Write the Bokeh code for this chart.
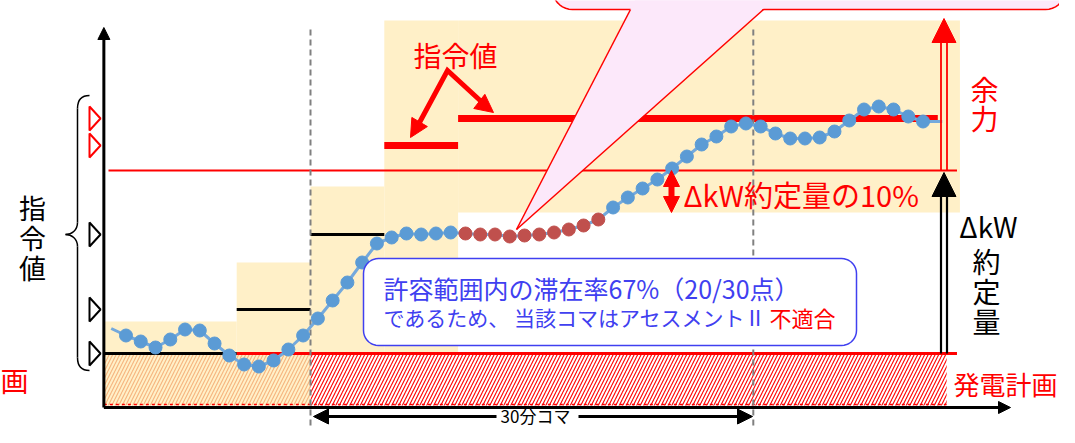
import numpy as np
from bokeh.plotting import figure
from bokeh.models import Range1d, Arrow, NormalHead
from bokeh.core.properties import value
from bokeh.embed import file_html
from bokeh.resources import INLINE

# ---------------- data (x: minutes, y: output in chart units) ----------------
minutes = list(range(55))
output = [72, 66, 60, 68, 78, 77, 64, 52, 43, 41, 47, 58, 72, 89, 107, 125, 145, 164,
          170, 174, 173, 174, 175, 174, 173, 173, 171, 172, 173, 175, 178, 182, 188,
          200, 210, 219, 228, 239, 251, 263, 271, 281, 284, 281, 274, 269, 269, 270,
          276, 287, 298, 301, 298, 291, 286]
line_lead = (-1.0, 79)
line_tail = (55.3, 286)
block_start = [-1.5, 7.5, 12.5, 17.5, 22.5]
block_end = [7.5, 12.5, 17.5, 22.5, 56.5]
dispatch = [54, 98, 173, 262, 289]
band_low = [54, 54, 54, 54, 195]
band_high = [86, 145, 221, 387, 387]
plan = 54
contract_top = 237
slot = [12.5, 42.5]
dispatch_line_end = 55.0
plan_line_end = 56.3
hatch_end = 55.6

# ---------------- styles ----------------
YEL = "#FFF0C8"
BLUE = "#5B9BD5"
LINE_BLUE = "#74A9DC"
RED_DOT = "#C0504D"
RED = "#FF0000"
PINK = "#FCE8FA"
CALL_BLUE = "#4040F0"
FONT = value("Noto Sans CJK JP")
dispatch_colors = ["black", "black", "black", RED, RED]
dispatch_widths = [3, 3, 3, 7, 7]

W, H = 1059, 427
# pixel helpers for the layout of annotations
X0, XS, BASE = 125.5, 14.76, 407.0
def X(px):
    return (px - X0) / XS
def Y(py):
    return BASE - py

p = figure(width=W, height=H, x_range=Range1d(X(0), X(W)),
           y_range=Range1d(Y(H), Y(0)), x_axis_location=None, y_axis_location=None,
           output_backend="svg", toolbar_location=None, min_border=0,
           background_fill_color="white", border_fill_color="white",
           outline_line_color=None)
p.grid.visible = False

# tolerance bands
p.quad(left=block_start, right=block_end, bottom=band_low, top=band_high,
       fill_color=YEL, line_color=None)
# generation plan hatch
p.quad(left=[block_start[0]], right=[slot[0]], bottom=[Y(405)], top=[plan],
       fill_color=YEL, line_color=None, hatch_pattern="/", hatch_color="#F6B47E",
       hatch_scale=7, hatch_weight=1.1)
p.quad(left=[slot[0]], right=[hatch_end], bottom=[Y(405)], top=[plan],
       fill_color="white", line_color=None, hatch_pattern="/", hatch_color=RED,
       hatch_scale=7, hatch_weight=1.1)
p.line([block_start[0], hatch_end], [Y(404), Y(404)], line_color=RED,
       line_width=1.5, line_dash="3 3")

# contract line and plan line
p.segment(x0=[X(108), block_end[0]], y0=[contract_top, plan],
          x1=[plan_line_end, plan_line_end], y1=[contract_top, plan],
          line_color=RED, line_width=[2, 3])

# dispatch values
ends = [min(e, dispatch_line_end) for e in block_end]
p.segment(x0=block_start, y0=dispatch, x1=ends, y1=dispatch,
          line_color=dispatch_colors, line_width=dispatch_widths)

# slot boundaries
p.segment(x0=slot, y0=[Y(445)] * 2, x1=slot, y1=[Y(27)] * 2,
          line_color="#808080", line_width=2, line_dash="6 4")

# output line and dots
def block_of(t):
    for k, (a, b) in enumerate(zip(block_start, block_end)):
        if a <= t < b:
            return k
    return len(block_start) - 1

dot_colors = []
for t, v in zip(minutes, output):
    k = block_of(t)
    inside = band_low[k] <= v <= band_high[k]
    in_slot = slot[0] <= t <= slot[1]
    dot_colors.append(RED_DOT if (in_slot and not inside) else BLUE)

p.line([line_lead[0]] + minutes + [line_tail[0]], [line_lead[1]] + output + [line_tail[1]],
       line_color=LINE_BLUE, line_width=3)
p.scatter(minutes, output, size=13, fill_color=dot_colors, line_color=dot_colors)

# axes
p.add_layout(Arrow(end=NormalHead(size=12, fill_color="black", line_color="black"),
                   x_start=block_start[0], y_start=0, x_end=block_start[0], y_end=Y(27),
                   line_width=3, line_color="black"))
p.add_layout(Arrow(end=NormalHead(size=12, fill_color="black", line_color="black"),
                   x_start=block_start[0], y_start=0, x_end=X(1010), y_end=0,
                   line_width=3, line_color="black"))

# dispatch markers on the left
tri_x = [[X(89), X(89), X(100)] for _ in dispatch]
tri_y = [[d + 12, d - 12, d] for d in dispatch]
p.patches(tri_x, tri_y, fill_color="white", line_color=dispatch_colors, line_width=2)

# brace
bx = dict(x0=[X(89), X(77), X(65), X(77)], y0=[Y(95), Y(222), Y(234), Y(357)],
          x1=[X(77), X(65), X(77), X(89)], y1=[Y(108), Y(234), Y(246), Y(370)],
          cx0=[X(81), X(77), X(71), X(77)], cy0=[Y(95), Y(230), Y(234), Y(366)],
          cx1=[X(77), X(71), X(77), X(81)], cy1=[Y(99), Y(234), Y(238), Y(370)])
p.bezier(**bx, line_color="black", line_width=1.5)
p.segment(x0=[X(77), X(77)], y0=[Y(108), Y(246)], x1=[X(77), X(77)], y1=[Y(222), Y(357)],
          line_color="black", line_width=1.5)

# helpers
def label(px, py, txt, color, size, align="center", baseline="middle"):
    p.text(x=[X(px)], y=[Y(py)], text=[txt], text_font=FONT,
           text_font_size=f"{size}px", text_color=color, text_align=align,
           text_baseline=baseline)

def vlabel(px, py0, pitch, txt, color, size):
    for k, ch in enumerate(txt):
        label(px, py0 + k * pitch, ch, color, size)

def head(px0, py0, px1, py1, color, size):
    p.add_layout(Arrow(end=NormalHead(size=size, fill_color=color, line_color=color, line_width=1),
                       x_start=X(px0), y_start=Y(py0), x_end=X(px1), y_end=Y(py1),
                       line_alpha=0))

def rrect(x0, y0, x1, y1, r, n=10):
    pts = []
    corners = [(x1 - r, y0 + r, -90, 0), (x1 - r, y1 - r, 0, 90),
               (x0 + r, y1 - r, 90, 180), (x0 + r, y0 + r, 180, 270)]
    for cx, cy, a0, a1 in corners:
        for a in np.linspace(np.radians(a0), np.radians(a1), n):
            pts.append((cx + r * np.cos(a), cy + r * np.sin(a)))
    return [X(a) for a, b in pts], [Y(b) for a, b in pts]

# 指令値 label with arrows
label(455, 54, "指令値", RED, 28)
p.line([X(419), X(447), X(484)], [Y(122), Y(70), Y(104)], line_color=RED, line_width=5,
       line_join="miter")
head(430, 103, 410, 137, RED, 18)
head(470, 94, 493, 112, RED, 18)

# ΔkW 10% arrow and label
xa10 = 671
p.segment(x0=[X(xa10)], y0=[contract_top - 10], x1=[X(xa10)], y1=[band_low[-1] + 10],
          line_color=RED, line_width=6)
head(xa10, 190, xa10, 170, RED, 16)
head(xa10, 192, xa10, 212, RED, 16)
label(683, 193, "ΔkW約定量の10%", RED, 29, align="left")

# hollow arrows (余力, ΔkW約定量)
xa = 943.5
p.segment(x0=[X(xa - 3), X(xa + 3)], y0=[contract_top] * 2, x1=[X(xa - 3), X(xa + 3)],
          y1=[Y(40)] * 2, line_color=RED, line_width=1.8)
head(xa, 60, xa, 18, RED, 24)
p.segment(x0=[X(xa - 3), X(xa + 3)], y0=[plan] * 2, x1=[X(xa - 3), X(xa + 3)],
          y1=[Y(195)] * 2, line_color="black", line_width=2.2)
head(xa, 215, xa, 172, "black", 24)

# right-side labels
vlabel(984, 88, 29, "余力", RED, 28)
label(988, 225, "ΔkW", "black", 28)
vlabel(986, 260, 30, "約定量", "black", 28)
label(953, 383, "発電計画", RED, 26, align="left")
label(0, 379, "画", RED, 28, align="left")

# left vertical label
vlabel(32, 207, 30, "指令値", "black", 27)

# 30分コマ
ya = 416
p.segment(x0=[X(328), X(578)], y0=[Y(ya)] * 2, x1=[X(496), X(738)], y1=[Y(ya)] * 2,
          line_color="black", line_width=3)
head(340, ya, 313, ya, "black", 15)
head(720, ya, 752, ya, "black", 15)
label(535, 415, "30分コマ", "black", 17)

# blue callout
cx, cy = rrect(363, 258, 856, 345, 15)
p.patch(cx, cy, fill_color="white", line_color=CALL_BLUE, line_width=1.5)
label(383, 287, "許容範囲内の滞在率67%（20/30点）", CALL_BLUE, 25, align="left")
label(383, 316, "であるため、 当該コマはアセスメントⅡ", CALL_BLUE, 21, align="left")
label(769, 316, "不適合", RED, 22, align="left")

# pink callout at top
bx_, by_ = rrect(552, -40, 1065, 9, 20)
p.patch(bx_, by_, fill_color=PINK, line_color=RED, line_width=1.5)
tip = (516, 229)
p.patch([X(tip[0]), X(644.5), X(794.3)], [Y(tip[1]), Y(-20), Y(-20)],
        fill_color=PINK, line_color=None)
p.segment(x0=[X(tip[0])] * 2, y0=[Y(tip[1])] * 2, x1=[X(630), X(763)], y1=[Y(9), Y(9)],
          line_color=RED, line_width=1.5)

open("out.html", "w").write(file_html(p, INLINE))
